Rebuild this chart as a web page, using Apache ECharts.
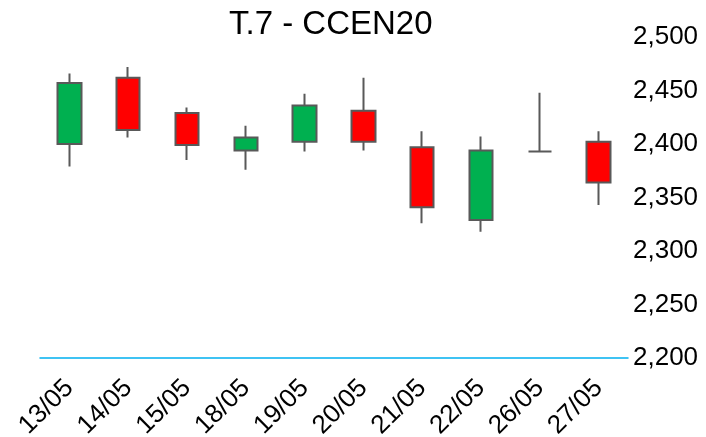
<!DOCTYPE html>
<html lang="en">
<head>
    <meta charset="UTF-8">
    <title>T.7 - CCEN20</title>
    <script src="https://cdn.jsdelivr.net/npm/echarts@6/dist/echarts.min.js"></script>
    <style>
        html, body { margin: 0; padding: 0; background: #fff; }
        #main { width: 706px; height: 437px; }
    </style>
</head>
<body>
<div id="main"></div>
<script type="text/javascript">
    // dates on the x axis
    var dates = ['13/05', '14/05', '15/05', '18/05', '19/05', '20/05', '21/05', '22/05', '26/05', '27/05'];
    // open / close / low / high
    var openVals  = [2400, 2462, 2429, 2394, 2402, 2431, 2397, 2329, 2393, 2402];
    var closeVals = [2457, 2413, 2399, 2406, 2436, 2402, 2341, 2394, 2393, 2364];
    var lowVals   = [2379, 2406, 2385, 2376, 2393, 2394, 2326, 2318, 2393, 2343];
    var highVals  = [2466, 2472, 2434, 2417, 2447, 2462, 2412, 2407, 2448, 2412];

    var yMin = 2200, yMax = 2500, yStep = 50;

    // echarts wants [open, close, lowest, highest]
    var candles = dates.map(function (d, i) {
        return [openVals[i], closeVals[i], lowVals[i], highVals[i]];
    });

    var myChart = echarts.init(document.getElementById('main'), null, {renderer: 'canvas'});

    var option = {
        backgroundColor: '#ffffff',
        animation: false,
        textStyle: {
            fontFamily: '"Liberation Sans", Arial, sans-serif'
        },
        title: {
            text: 'T.7 - CCEN20',
            left: 229,
            top: 8,
            padding: 0,
            textStyle: {
                fontSize: 33,
                fontWeight: 'normal',
                color: '#000000',
                fontFamily: '"Liberation Sans", Arial, sans-serif'
            }
        },
        grid: {
            left: 40,
            right: 78,
            top: 37,
            bottom: 79,
            containLabel: false,
            outerBoundsMode: 'none'
        },
        xAxis: {
            type: 'category',
            data: dates,
            boundaryGap: true,
            axisLine: {
                show: true,
                lineStyle: { color: '#00B0F0', width: 1.5 }
            },
            axisTick: { show: false },
            splitLine: { show: false },
            axisLabel: {
                rotate: 45,
                margin: 26,
                fontSize: 26,
                color: '#000000',
                interval: 0
            }
        },
        yAxis: {
            type: 'value',
            position: 'right',
            min: yMin,
            max: yMax,
            interval: yStep,
            axisLine: { show: false },
            axisTick: { show: false },
            splitLine: { show: false },
            axisLabel: {
                margin: 5,
                fontSize: 26,
                color: '#000000',
                formatter: function (v) {
                    return v.toLocaleString('en-US');
                }
            }
        },
        series: [
            {
                name: 'CCEN20',
                type: 'candlestick',
                data: candles,
                barWidth: 24,
                itemStyle: {
                    color: '#00B050',
                    color0: '#FF0000',
                    borderColor: '#595959',
                    borderColor0: '#595959',
                    borderColorDoji: '#595959',
                    borderWidth: 2
                }
            }
        ]
    };

    myChart.setOption(option);
</script>
</body>
</html>
